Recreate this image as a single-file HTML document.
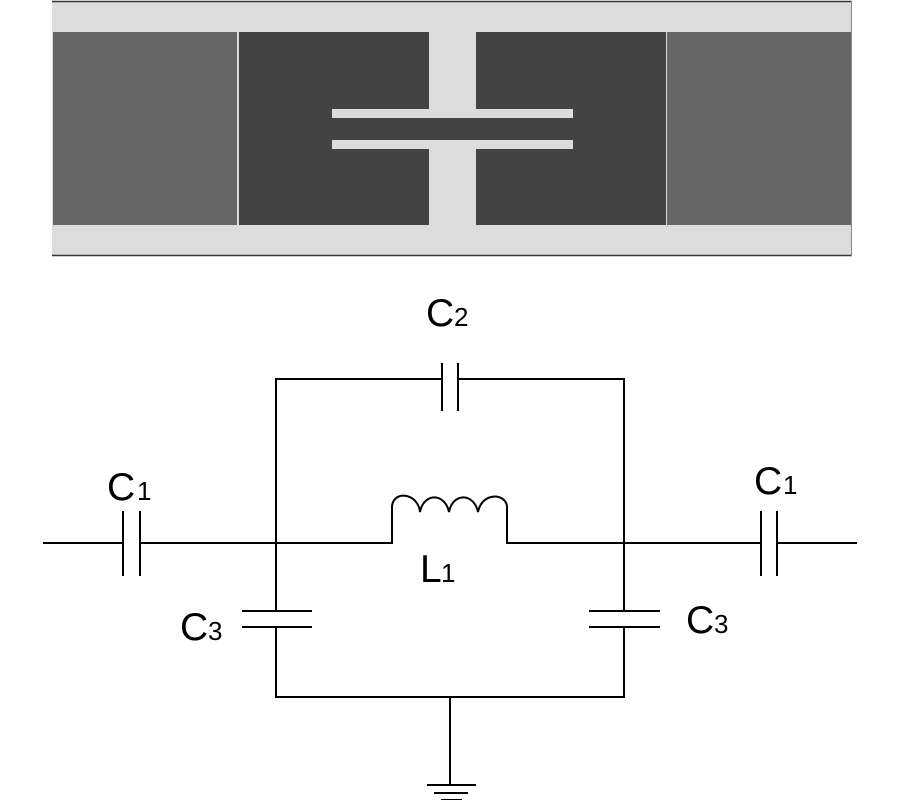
<!DOCTYPE html>
<html><head><style>
html,body{margin:0;padding:0;background:#fff;width:900px;height:800px;overflow:hidden}
svg{display:block}
text{font-family:"Liberation Sans",sans-serif;fill:#000}
</style></head><body>
<svg width="900" height="800" viewBox="0 0 900 800">
<rect x="52" y="1" width="800" height="255" fill="#dcdcdc"/>
<line x1="52" y1="1.5" x2="852" y2="1.5" stroke="#333" stroke-width="1.5"/>
<line x1="52" y1="255.5" x2="852" y2="255.5" stroke="#333" stroke-width="1.5"/>
<line x1="851.5" y1="1" x2="851.5" y2="256" stroke="#888" stroke-width="1"/>
<rect x="53" y="32" width="184" height="193" fill="#666"/>
<rect x="667" y="32" width="184" height="193" fill="#666"/>
<rect x="239" y="32" width="190" height="193" fill="#434343"/>
<rect x="476" y="32" width="190" height="193" fill="#434343"/>
<rect x="332" y="109" width="241" height="9" fill="#dcdcdc"/>
<rect x="332" y="140" width="241" height="9" fill="#dcdcdc"/>
<rect x="429" y="118" width="47" height="22" fill="#434343"/>
<g stroke="#000" stroke-width="2" fill="none">
<path d="M43 543H123M140 543H392V506M507 506V543H761M777 543H857"/>
<path d="M123 511V576M140 511V576M761 511V576M777 511V576"/>
<path d="M392 506C394 490 418 493 420 512C424 492 445 493 449 512C453 492 474 493 478 512C482 492 505 493 507 506"/>
<path d="M276 611V379H442M458 379H624V611M276 627V697H624V627"/>
<path d="M442 363V411M458 363V411"/>
<path d="M242 611H312M242 627H312M589 611H660M589 627H660"/>
<path d="M450 697V785M427 785H476M434 793H468M441 800H462"/>
</g>
<text x="426" y="326" font-size="39">C</text><text x="454" y="326" font-size="26">2</text>
<text x="107" y="500" font-size="39">C</text><text x="137" y="500" font-size="26">1</text>
<text x="754" y="494" font-size="39">C</text><text x="783" y="494" font-size="26">1</text>
<text x="180" y="640" font-size="39">C</text><text x="208" y="640" font-size="26">3</text>
<text x="686" y="633" font-size="39">C</text><text x="714" y="633" font-size="26">3</text>
<text x="420" y="582" font-size="39">L</text><text x="441" y="582" font-size="26">1</text>
</svg>
</body></html>
